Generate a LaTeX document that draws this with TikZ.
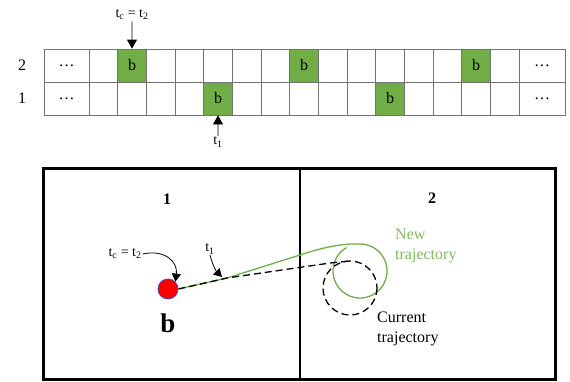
\documentclass[tikz,border=0pt]{standalone}
\usepackage{fontspec}
\setmainfont{Liberation Serif}
\usetikzlibrary{arrows.meta}
\definecolor{cellgreen}{RGB}{112,173,71}
\definecolor{linegreen}{RGB}{112,173,71}
\definecolor{textgreen}{RGB}{128,184,92}
\begin{document}
\begin{tikzpicture}[x=1pt,y=-1pt,
  cell/.style={draw=black!55, line width=0.8pt, minimum width=28.67pt, minimum height=33pt, inner sep=0pt, font=\fontsize{16}{18}\selectfont},
  wide/.style={cell, minimum width=45pt},
  bcell/.style={cell, fill=cellgreen},
  tlab/.style={font=\fontsize{14}{16}\selectfont, inner sep=1pt},
  tip/.style={-{Triangle[length=9pt,width=10pt]}, line width=0.8pt},
  ctip/.style={-{Triangle[length=8pt,width=9pt]}, line width=0.8pt},
  zone/.style={font=\bfseries\fontsize{16}{18}\selectfont},
  traj/.style={font=\fontsize{16}{19.5}\selectfont, align=left, anchor=north west, inner sep=0pt}]
\useasboundingbox (0,0) rectangle (570,381);
% grid
\foreach \r/\y in {2/65.5,1/98.5} {
  \node[wide] (r\r c0) at (66.5,\y) {\dots};
  \foreach \k in {1,...,15} {
    \node[cell] (r\r c\k) at ({89+28.667*(\k-0.5)},\y) {};
  }
  \node[wide, minimum width=46pt] (r\r c16) at (542,\y) {\dots};
}
\node[bcell] (g2a) at (r2c2.center) {b};
\node[bcell] (g2b) at (r2c8.center) {b};
\node[bcell] (g2c) at (r2c14.center) {b};
\node[bcell] (g1a) at (r1c5.center) {b};
\node[bcell] (g1b) at (r1c11.center) {b};
\node[font=\fontsize{16}{18}\selectfont] (lab2) at (22,65.5) {2};
\node[font=\fontsize{16}{18}\selectfont] (lab1) at (22,98.5) {1};
\node[tlab] (tctop) at (132,15) {t\textsubscript{c} = t\textsubscript{2}};
\draw[tip] (tctop.south) -- (g2a.north);
\node[tlab] (t1bot) at (218,142) {t\textsubscript{1}};
\draw[tip] (t1bot.north) -- (g1a.south);
% bottom box
\draw[line width=3pt] (43,168) rectangle (555,379);
\draw[line width=2.5pt] (300,168) -- (300,379);
\node[zone] (z1) at (167,199) {1};
\node[zone] (z2) at (432,198) {2};
\node[circle, fill=red, draw=blue!45!gray, line width=0.8pt, minimum size=20pt, inner sep=0pt] (ball) at (168,289) {};
\node[font=\bfseries\fontsize{27}{30}\selectfont] (bl) at (168,323) {b};
% trajectories
\draw[linegreen, line width=1.3pt] (ball.east) -- (227,278) -- (300,255)
  .. controls (318,249) and (340,243) .. (360,244)
  -- plot[domain=270:600, samples=80] ({360+27*cos(\x)},{271+27*sin(\x)});
\draw[line width=1.3pt, dash pattern=on 7pt off 4pt] (ball.east) -- (227,278) -- (330,263)
  .. controls (340,261.5) .. (350,261);
\draw[line width=1.3pt, dash pattern=on 7pt off 4pt] (350,288) circle[radius=27];
\node[traj, textgreen] (newt) at (395,229) {New\\trajectory};
\node[traj] (curt) at (377,312) {Current\\trajectory};
% time labels in box
\node[tlab] (tcin) at (125,254) {t\textsubscript{c} = t\textsubscript{2}};
\draw[ctip] (tcin.east) .. controls (165,249) and (178,262) .. (ball.north east);
\node[tlab] (t1in) at (210,249) {t\textsubscript{1}};
\coordinate (t1pt) at (222,277);
\draw[ctip] (t1in.south) .. controls (213,266) and (216,271) .. (t1pt);
\end{tikzpicture}
\end{document}
